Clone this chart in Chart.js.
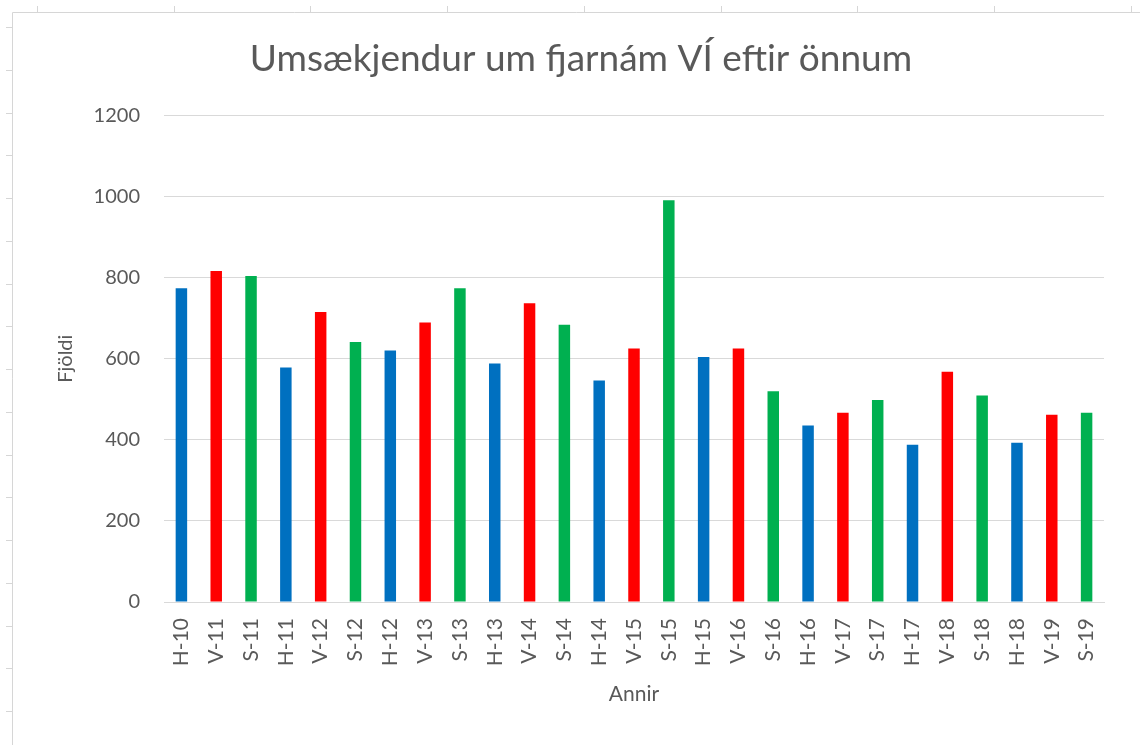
<!DOCTYPE html>
<html>
<head>
<meta charset="utf-8">
<script src="https://cdn.jsdelivr.net/npm/chart.js@4/dist/chart.umd.min.js"></script>
<style>
  html, body { margin: 0; padding: 0; background: #ffffff; }
  #wrap { position: relative; width: 1140px; height: 745px; }
  canvas { display: block; }
</style>
</head>
<body>
<div id="wrap"><canvas id="c" width="1140" height="745"></canvas></div>
<script>
// ---- data ----
const categories = ["H-10","V-11","S-11","H-11","V-12","S-12","H-12","V-13","S-13","H-13","V-14","S-14","H-14","V-15","S-15","H-15","V-16","S-16","H-16","V-17","S-17","H-17","V-18","S-18","H-18","V-19","S-19"];
const applicants = [774,816,804,578,715,641,620,689,774,588,737,684,546,625,991,604,625,520,435,467,498,388,568,509,393,462,467];
const yTicks = [0,200,400,600,800,1000,1200];
const termColors = { H: "#0070C0", V: "#FF0000", S: "#00B050" };
const barColors = categories.map(c => termColors[c.charAt(0)]);

const titleText = "Umsækjendur um fjarnám VÍ eftir önnum";
const textColor = "#595959";
const FONT = "Lato, 'Open Sans', sans-serif";

// decorative worksheet frame around the chart object
const framePlugin = {
  id: "frame",
  beforeDraw(chart) {
    const ctx = chart.ctx;
    ctx.save();
    ctx.fillStyle = "#ffffff";
    ctx.fillRect(0, 0, chart.width, chart.height);
    ctx.strokeStyle = "#d6d6d6";
    ctx.lineWidth = 1;
    ctx.beginPath();
    ctx.moveTo(12.5, 12.5); ctx.lineTo(12.5, chart.height);
    ctx.moveTo(12.5, 12.5); ctx.lineTo(chart.width, 12.5);
    for (let x = 37; x < chart.width; x += 136.7) {
      const px = Math.round(x) + 0.5;
      ctx.moveTo(px, 6); ctx.lineTo(px, 12);
    }
    for (let y = 27; y < chart.height; y += 42.75) {
      const py = Math.round(y) + 0.5;
      ctx.moveTo(6, py); ctx.lineTo(12, py);
    }
    ctx.stroke();
    ctx.restore();
  }
};

new Chart(document.getElementById("c"), {
  type: "bar",
  data: {
    labels: categories,
    datasets: [{
      label: "Fjöldi",
      data: applicants,
      backgroundColor: barColors,
      borderWidth: 0,
      barPercentage: 0.33,
      categoryPercentage: 1.0
    }]
  },
  options: {
    responsive: false,
    animation: false,
    devicePixelRatio: 1,
    layout: { padding: { left: 22, right: 0, top: 0, bottom: 0 } },
    plugins: {
      legend: { display: false },
      tooltip: { enabled: false },
      title: {
        display: true,
        text: titleText,
        color: textColor,
        font: { family: FONT, size: 37, weight: "normal" },
        padding: { top: 37, bottom: 34 }
      }
    },
    scales: {
      x: {
        grid: { display: false },
        border: { display: true, color: "#d9d9d9", width: 1 },
        ticks: {
          color: textColor,
          font: { family: FONT, size: 21 },
          minRotation: 90, maxRotation: 90,
          autoSkip: false,
          padding: 8
        },
        title: {
          display: true,
          text: "Annir",
          color: textColor,
          font: { family: FONT, size: 21 },
          padding: { top: 0, bottom: 38 }
        },
        afterFit(s) { s.height = 143; }
      },
      y: {
        min: 0, max: 1200,
        afterBuildTicks(s) { s.ticks = yTicks.map(v => ({ value: v })); },
        grid: { color: "#d9d9d9", lineWidth: 1, drawTicks: false },
        border: { display: false },
        ticks: {
          color: textColor,
          font: { family: FONT, size: 20 },
          padding: 24,
          callback: v => String(v)
        },
        title: {
          display: true,
          text: "Fjöldi",
          color: textColor,
          font: { family: FONT, size: 20 },
          padding: { top: 32, bottom: 0 }
        },
        afterFit(s) { s.width = 142; }
      },
      spacer: {
        type: "linear",
        position: "right",
        display: true,
        grid: { display: false },
        border: { display: false },
        ticks: { display: false },
        afterFit(s) { s.width = 36; }
      }
    }
  },
  plugins: [framePlugin]
});
</script>
</body>
</html>
